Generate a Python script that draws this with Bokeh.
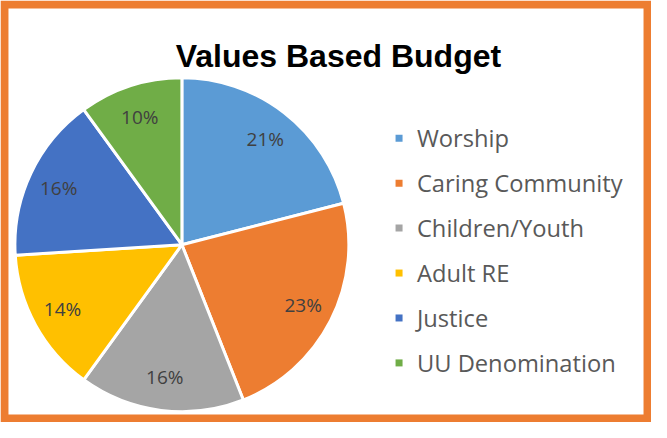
import numpy as np
from bokeh.plotting import figure
from bokeh.models import Range1d, ColumnDataSource
from bokeh.core.properties import value
from bokeh.embed import file_html
from bokeh.resources import INLINE

title_text = "Values Based Budget"
categories = ["Worship", "Caring Community", "Children/Youth", "Adult RE", "Justice", "UU Denomination"]
shares = [21, 23, 16, 14, 16, 10]
colors = ["#5B9BD5", "#ED7D31", "#A5A5A5", "#FFC000", "#4472C4", "#70AD47"]

W, H = 651, 422
X0, X1 = 11, 666
YT, YB = 5, 437


def Y(v):
    return 438 - v


CX, CY, R = 193.5, 255, 168
LABEL_R = 137

p = figure(width=W, height=H, x_range=Range1d(X0, X1), y_range=Range1d(Y(YB), Y(YT)),
           output_backend="svg", toolbar_location=None, x_axis_type=None, y_axis_type=None,
           min_border=0, min_border_left=0, min_border_right=0, min_border_top=0, min_border_bottom=0)
p.grid.visible = False
p.outline_line_color = None
p.background_fill_color = "white"
p.border_fill_color = "white"

# frame border
p.quad(left=[15], right=[662], top=[Y(9)], bottom=[Y(433)], fill_color=None,
       line_color="#ED7D31", line_width=8, line_join="miter")

frac = np.array(shares, dtype=float) / sum(shares)
cum = np.concatenate([[0.0], np.cumsum(frac)])
start = np.pi / 2 - 2 * np.pi * cum[:-1]
end = np.pi / 2 - 2 * np.pi * cum[1:]
mid = (start + end) / 2

src = ColumnDataSource(dict(
    cat=categories, color=colors, start=start, end=end,
    lx=CX + LABEL_R * np.cos(mid), ly=Y(CY) + LABEL_R * np.sin(mid),
    label=[f"{s}%" for s in shares],
))

p.wedge(x=CX, y=Y(CY), radius=R, start_angle="start", end_angle="end", direction="clock",
        fill_color="color", line_color="white", line_width=3, source=src)

p.text(x="lx", y="ly", text="label", text_align="center", text_baseline="middle",
       text_font=value("Open Sans"), text_font_size="19px", text_color="#404040", source=src)

# legend
rows = np.arange(len(categories))
leg = ColumnDataSource(dict(
    mx=[412] * len(categories), tx=[430] * len(categories),
    y=[Y(146 + 46 * i) for i in rows], cat=categories, color=colors,
))
p.scatter(x="mx", y="y", marker="square", size=7, fill_color="color", line_color=None, source=leg)
p.text(x="tx", y="y", text="cat", text_align="left", text_baseline="middle",
       text_font=value("Open Sans"), text_font_size="23.7px", text_color="#595959", source=leg)

# title
p.text(x=[351], y=[Y(62)], text=[title_text], text_align="center", text_baseline="alphabetic",
       text_font=value("Liberation Sans"), text_font_style="bold", text_font_size="32px",
       text_color="black")

open("out.html", "w").write(file_html(p, INLINE))
